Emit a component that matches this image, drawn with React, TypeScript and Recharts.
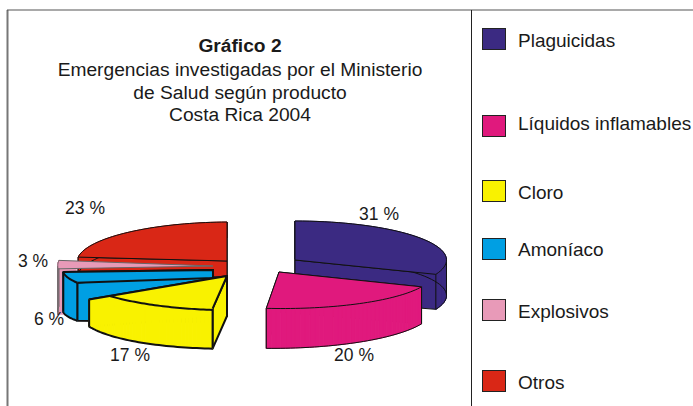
import React from "react";
import { PieChart, Pie } from "recharts";

const categories = ["Plaguicidas", "Líquidos inflamables", "Cloro", "Amoníaco", "Explosivos", "Otros"];
const shares = [31, 20, 17, 6, 3, 23];
const colors = ["#3B2A82", "#E0197D", "#F9F200", "#009FE3", "#E89AB8", "#D92716"];
const titleLines = ["Emergencias investigadas por el Ministerio", "de Salud según producto", "Costa Rica 2004"];

const WIDTH = 693;
const HEIGHT = 406;
const FONT = "'Liberation Sans', Arial, sans-serif";

// where each exploded slice sits and how it is squashed, the slices are not all the same
const look: Record<string, any> = {
  Plaguicidas: { dx: 35, dy: -5, scale: 1.01, ry: 39, tilt: 0, lean: 0, depth: [38, 35], line: 1, label: [379, 220] },
  "Líquidos inflamables": { dx: 19, dy: 7, scale: 1.03, ry: 36.5, tilt: 1.5, lean: 3, depth: [37, 40], line: 1, label: [354, 361] },
  Cloro: {
    dx: -33, dy: 11, scale: 1, ry: 32, tilt: -11, lean: 5, depth: [27, 40], line: 2, label: [130, 361],
    crease: { ry: 34.2, tilt: 3, from: 0.24 },
  },
  "Amoníaco": { dx: -47, dy: 5, scale: 1, ry: 30, tilt: 0, lean: 0, depth: [40, 38], line: 2, label: [49, 325], drop: 8, apexDepth: 52 },
  Explosivos: { dx: -47, dy: 1, scale: 1.035, ry: 45, tilt: 0, lean: 0, depth: [46, 46], line: 1, label: [33, 267], stub: 0.12, ink: "#666" },
  Otros: { dx: -33, dy: -4, scale: 1, ry: 39, tilt: -1, lean: 0, depth: [16, 16], line: 1, label: [85, 214] },
};

const swatchTops = [28, 115, 180, 238, 299, 370];
const legendBaselines = [47, 130, 199, 256, 318, 389];
const titleBaselines = [76, 98.5, 121];

const rows = categories.map((name, i) => ({ name, value: shares[i], fill: colors[i] }));
const rightRows = rows.slice(0, 2);
const leftRows = rows.slice(2).reverse();
const rightSweep = (rightRows.reduce((s, r) => s + r.value, 0) / 100) * 360;
const leftSweep = (leftRows.reduce((s, r) => s + r.value, 0) / 100) * 360;

const Slice3D = (props: any) => {
  const { cx, cy, outerRadius, startAngle, endAngle, name, value, fill } = props;
  const s = look[name];
  const px = cx + s.dx;
  const py = cy + s.dy;
  const rx = outerRadius * s.scale;
  const steps = 40;
  const point = (t: number, ry: number, tilt: number): [number, number] => {
    const th = ((startAngle + (endAngle - startAngle) * t) * Math.PI) / 180;
    return [px + rx * Math.cos(th) + s.lean * Math.sin(th), py - ry * Math.sin(th) + tilt * Math.cos(th)];
  };
  const top: [number, number][] = [];
  const bottom: [number, number][] = [];
  for (let i = 0; i <= steps; i++) {
    const t = i / steps;
    const [x, y] = point(t, s.ry, s.tilt);
    top.push([x, y]);
    bottom.push([x, y + s.depth[0] + (s.depth[1] - s.depth[0]) * t]);
  }
  // the line drawn on the top face, Cloro's does not follow the wall's edge
  let arc = top;
  if (s.crease) {
    arc = [];
    for (let i = 0; i <= steps; i++) {
      const t = s.crease.from + ((1 - s.crease.from) * i) / steps;
      arc.push(point(t, s.crease.ry, s.crease.tilt));
    }
  }
  const toD = (pts: [number, number][]) => pts.map((p) => p.join(",")).join(" ");
  const drop = s.drop || 0;
  const apexDepth = s.apexDepth || Math.max(s.depth[0], s.depth[1]);
  const apex: [number, number] = [px, py];
  const apexLow: [number, number] = [px, py + drop];
  const inkColor = s.ink || "#111";
  const common = { fill, stroke: inkColor, strokeWidth: s.line, strokeLinejoin: "round" as const };
  const ink = { fill: "none", stroke: inkColor, strokeWidth: s.line, strokeLinejoin: "round" as const };
  // the side wall folds over at the far left/right, so it is filled strip by strip
  const strips = top.slice(0, steps).map((p, i) => (
    <polygon key={i} points={toD([p, top[i + 1], bottom[i + 1], bottom[i]])} fill={fill} stroke={fill} strokeWidth={1} />
  ));
  const xs = top.map((p) => p[0]);
  const fold = [xs.indexOf(Math.max(...xs)), xs.indexOf(Math.min(...xs))].filter((i) => i > 0 && i < steps);
  // Explosivos only shows a short piece of its inner wall, red is seen behind the rest
  const stubEnd: [number, number] = s.stub
    ? [top[steps][0] + (px - top[steps][0]) * s.stub, top[steps][1] + (py - top[steps][1]) * s.stub]
    : apex;
  return (
    <g>
      {!s.stub && (
        <>
          <polygon {...common} points={toD([apex, top[0], bottom[0], [px, py + apexDepth]])} />
          <polygon {...common} points={toD([apex, top[steps], bottom[steps], [px, py + apexDepth]])} />
        </>
      )}
      {s.stub && (
        <polygon points={toD([top[steps], stubEnd, [stubEnd[0], stubEnd[1] + s.depth[1]], bottom[steps]])} fill={fill} />
      )}
      {strips}
      <polyline {...ink} points={toD(bottom)} />
      <polyline {...ink} points={toD([top[0], bottom[0]])} />
      <polyline {...ink} points={toD([top[steps], bottom[steps]])} />
      {fold.map((i) => (
        <polyline key={i} {...ink} points={toD([top[i], bottom[i]])} />
      ))}
      <polygon points={toD([apex, ...top, apexLow])} fill={fill} />
      {!s.crease && <polyline {...ink} points={toD(top)} />}
      {s.crease && <polyline {...ink} points={toD(arc)} />}
      <polyline {...ink} points={toD([top[0], apex, apexLow, top[steps]])} />
      <text x={s.label[0]} y={s.label[1]} textAnchor="middle" fontSize={17.5} fill="#1a1a1a" fontFamily={FONT}>
        {value} %
      </text>
    </g>
  );
};

export default function App() {
  return (
    <div style={{ position: "absolute", left: 0, top: 0, width: WIDTH, height: HEIGHT, background: "#fff" }}>
      <svg width={WIDTH} height={HEIGHT} style={{ position: "absolute", left: 0, top: 0 }}>
        <line x1={7.5} y1={10} x2={7.5} y2={HEIGHT} stroke="#777" strokeWidth={2} />
        <line x1={7} y1={10} x2={WIDTH} y2={10} stroke="#555" strokeWidth={1.2} />
        <line x1={471.5} y1={10} x2={471.5} y2={HEIGHT} stroke="#222" strokeWidth={1} />
        <g fontFamily={FONT} fontSize={19.2} fill="#1a1a1a">
          <text x={240} y={52} textAnchor="middle" fontWeight="bold">
            Gráfico 2
          </text>
          {titleLines.map((t, i) => (
            <text key={t} x={240} y={titleBaselines[i]} textAnchor="middle">
              {t}
            </text>
          ))}
          {categories.map((name, i) => (
            <g key={name}>
              <rect x={482.5} y={swatchTops[i] + 0.5} width={23} height={21} fill={colors[i]} stroke="#222" />
              <text x={518} y={legendBaselines[i]} fontSize={19}>
                {name}
              </text>
            </g>
          ))}
        </g>
      </svg>
      <div style={{ position: "absolute", left: 0, top: 0 }}>
        <PieChart width={WIDTH} height={HEIGHT} margin={{ top: 0, right: 0, bottom: 0, left: 0 }}>
          <Pie
            data={rightRows}
            dataKey="value"
            nameKey="name"
            cx={260}
            cy={265}
            outerRadius={150}
            startAngle={90}
            endAngle={90 - rightSweep}
            stroke="none"
            shape={Slice3D}
            inactiveShape={Slice3D}
            isAnimationActive={false}
          />
          <Pie
            data={leftRows}
            dataKey="value"
            nameKey="name"
            cx={260}
            cy={265}
            outerRadius={150}
            startAngle={90}
            endAngle={90 + leftSweep}
            stroke="none"
            shape={Slice3D}
            inactiveShape={Slice3D}
            isAnimationActive={false}
          />
        </PieChart>
      </div>
    </div>
  );
}
